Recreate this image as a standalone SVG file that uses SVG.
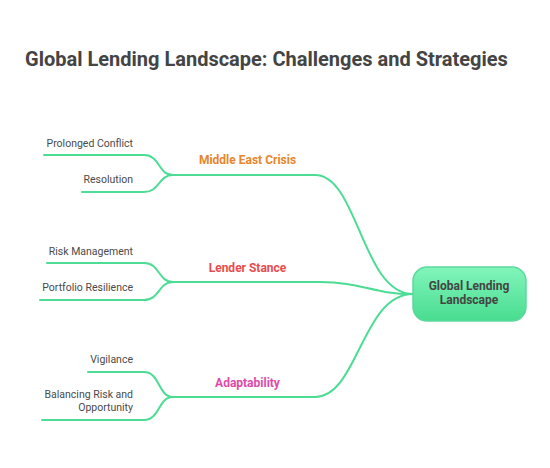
<svg xmlns="http://www.w3.org/2000/svg" width="550" height="468" viewBox="0 0 550 468">
<defs>
<linearGradient id="g" x1="0" y1="0" x2="0" y2="1">
<stop offset="0" stop-color="#82f5bb"/>
<stop offset="1" stop-color="#48dc8f"/>
</linearGradient>
</defs>
<style>
.ln{fill:none;stroke:#4cdc94;stroke-width:2;stroke-linecap:round}
.t{font-family:Roboto,"Liberation Sans",sans-serif;fill:#444}
.leaf{font-size:10.5px;text-anchor:end;fill:#4a4a4a}
.br{font-size:12px;font-weight:bold;text-anchor:middle}
</style>
<rect width="550" height="468" fill="#fff"/>
<text class="t" x="25" y="66" font-size="20" font-weight="bold" fill="#444">Global Lending Landscape: Challenges and Strategies</text>
<g id="connectors">
<path class="ln" d="M173,175 L315,175 C358,175 362,294 413,294"/>
<path class="ln" d="M173,282 L320,282 C362,282 372,294 413,294"/>
<path class="ln" d="M173,397 L315,397 C358,397 362,294 413,294"/>
<path class="ln" d="M44,155 L144,155 C160,155 158,175 173,175"/>
<path class="ln" d="M82,192 L144,192 C160,192 158,175 173,175"/>
<path class="ln" d="M47,263 L144,263 C160,263 158,282 173,282"/>
<path class="ln" d="M40,300 L144,300 C160,300 158,282 173,282"/>
<path class="ln" d="M88,372 L144,372 C160,372 158,397 173,397"/>
<path class="ln" d="M42,420 L144,420 C160,420 158,397 173,397"/>
</g>
<g id="root">
<rect x="413" y="267" width="113" height="54" rx="14" fill="url(#g)" stroke="#5cd99c" stroke-width="1.5"/>
<text class="t br" x="469" y="290">Global Lending</text>
<text class="t br" x="469" y="304">Landscape</text>
</g>
<g id="middle-east">
<text class="t br" x="247.5" y="164" style="fill:#e8852d">Middle East Crisis</text>
</g>
<g id="lender-stance">
<text class="t br" x="247.5" y="272" style="fill:#e84c4c">Lender Stance</text>
</g>
<g id="adaptability">
<text class="t br" x="247.5" y="387" style="fill:#e04aa8">Adaptability</text>
</g>
<g id="prolonged-conflict"><text class="t leaf" x="133" y="147">Prolonged Conflict</text></g>
<g id="resolution"><text class="t leaf" x="133" y="183">Resolution</text></g>
<g id="risk-management"><text class="t leaf" x="133" y="255">Risk Management</text></g>
<g id="portfolio-resilience"><text class="t leaf" x="133" y="291">Portfolio Resilience</text></g>
<g id="vigilance"><text class="t leaf" x="133" y="363">Vigilance</text></g>
<g id="balancing"><text class="t leaf" x="133" y="398">Balancing Risk and</text><text class="t leaf" x="133" y="411">Opportunity</text></g>
</svg>
